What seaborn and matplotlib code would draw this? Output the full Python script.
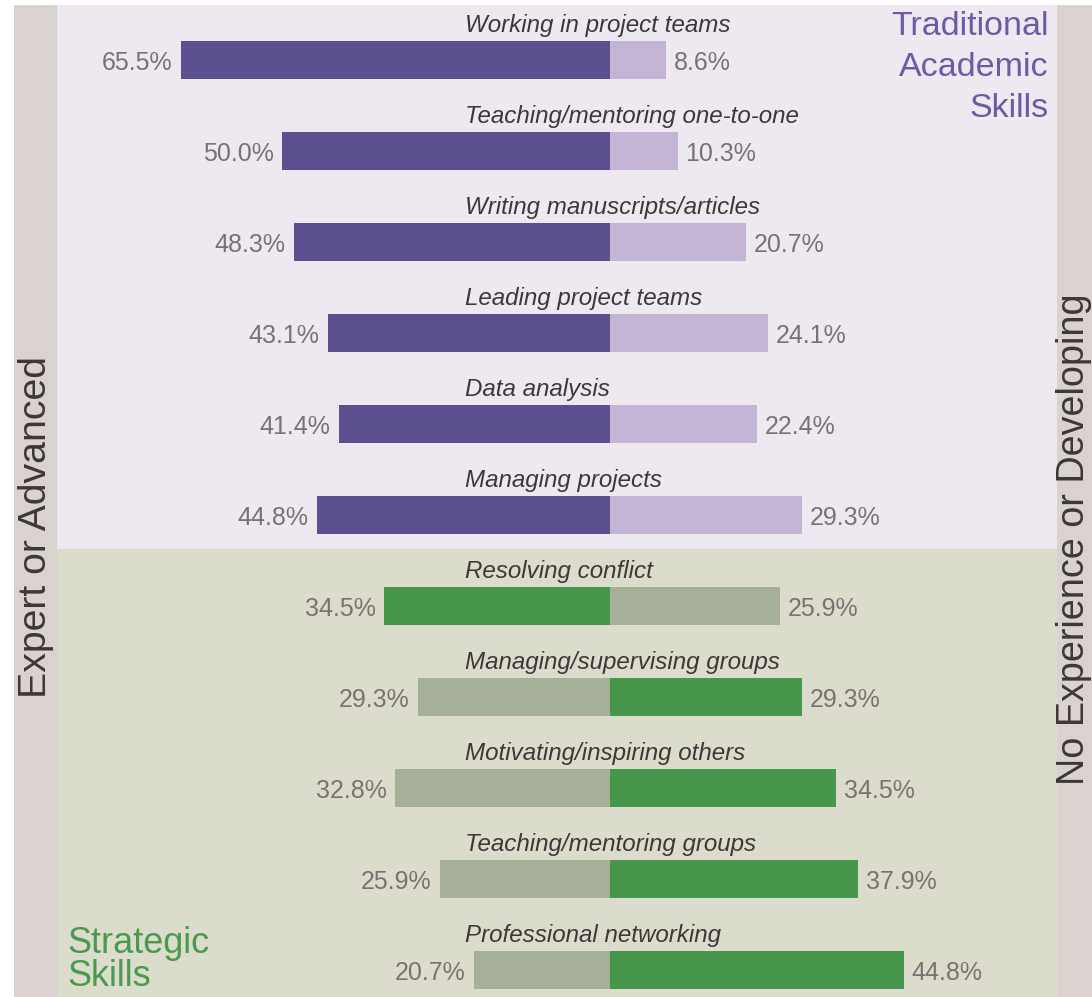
import matplotlib
matplotlib.use("Agg")
import matplotlib.pyplot as plt
from matplotlib.patches import Rectangle
import seaborn as sns
import pandas as pd

# Survey results: share of respondents rating themselves on each skill
skills = [
    "Working in project teams",
    "Teaching/mentoring one-to-one",
    "Writing manuscripts/articles",
    "Leading project teams",
    "Data analysis",
    "Managing projects",
    "Resolving conflict",
    "Managing/supervising groups",
    "Motivating/inspiring others",
    "Teaching/mentoring groups",
    "Professional networking",
]
expert_pct = [65.5, 50.0, 48.3, 43.1, 41.4, 44.8, 34.5, 29.3, 32.8, 25.9, 20.7]
novice_pct = [8.6, 10.3, 20.7, 24.1, 22.4, 29.3, 25.9, 29.3, 34.5, 37.9, 44.8]
group = ["traditional"] * 6 + ["strategic"] * 5

W, H = 1092, 997
sns.set_theme(style="white")
plt.rcParams["font.family"] = ["Liberation Sans", "DejaVu Sans"]

palette = {
    "traditional_strong": "#5B4F8F",
    "traditional_weak": "#C4B5D7",
    "strategic_strong": "#46964C",
    "strategic_weak": "#A6B098",
}

# Long-form table: expert side drawn to the left (negative), novice to the right;
# the larger side of each pair gets the strong tone.
rows = []
for s, e, n, g in zip(skills, expert_pct, novice_pct, group):
    left_strong = e > n
    rows.append({"skill": s, "value": -e,
                 "tone": f"{g}_{'strong' if left_strong else 'weak'}"})
    rows.append({"skill": s, "value": n,
                 "tone": f"{g}_{'weak' if left_strong else 'strong'}"})
df = pd.DataFrame(rows)

fig = plt.figure(figsize=(W / 100, H / 100), dpi=100)
fig.patch.set_facecolor("white")

def fx(px):
    return px / W

def fy(py):
    return 1 - py / H

# Side strips
strip = "#D9D2CF"
fig.add_artist(Rectangle((fx(14), 0), fx(43), 1 - 5 / H, transform=fig.transFigure,
                         facecolor=strip, edgecolor="none", zorder=0))
fig.add_artist(Rectangle((fx(1057), 0), fx(35), 1 - 5 / H, transform=fig.transFigure,
                         facecolor=strip, edgecolor="none", zorder=0))

ax = fig.add_axes([fx(57), 0, fx(1000), 1 - 5 / H])
ax.set_facecolor("none")

sns.barplot(data=df, x="value", y="skill", hue="tone", palette=palette,
            order=skills, dodge=False, width=0.42, saturation=1,
            linewidth=0, legend=False, ax=ax)

ymin, ymax = -0.604, 10.297
split = 5.37
ax.axhspan(ymin, split, color="#EEE8F0", zorder=0, lw=0)
ax.axhspan(split, ymax, color="#DCDCCC", zorder=0, lw=0)

ax.set_xlim(-84.4, 68.2)
ax.set_ylim(ymax, ymin)
ax.set_xlabel("")
ax.set_ylabel("")
ax.set_xticks([])
ax.set_yticks([])
for sp in ax.spines.values():
    sp.set_visible(False)

val_color = "#7A7272"
cat_color = "#3D3838"
for i, (s, e, n) in enumerate(zip(skills, expert_pct, novice_pct)):
    ax.text(-e - 1.3, i + 0.03, f"{e:.1f}%", ha="right", va="center",
            fontsize=18, color=val_color)
    ax.text(n + 1.2, i + 0.03, f"{n:.1f}%", ha="left", va="center",
            fontsize=18, color=val_color)
    ax.text(-22.1, i - 0.31, s, ha="left", va="baseline", fontsize=17.4,
            style="italic", color=cat_color)

fig.text(fx(36), fy(527), "Expert or Advanced", rotation=90, ha="center",
         va="center", fontsize=28.3, color=cat_color)
fig.text(fx(1074), fy(539), "No Experience or Developing", rotation=90,
         ha="center", va="center", fontsize=27.2, color=cat_color)

fig.text(fx(1049), fy(11), "Traditional\nAcademic\nSkills", ha="right", va="top",
         multialignment="right", fontsize=24.5, linespacing=1.42, color="#6A5BA6")
fig.text(fx(67), fy(926), "Strategic\nSkills", ha="left", va="top",
         fontsize=26, linespacing=0.93, color="#4A9A4E")

fig.savefig("out.png", dpi=100, facecolor="white")
